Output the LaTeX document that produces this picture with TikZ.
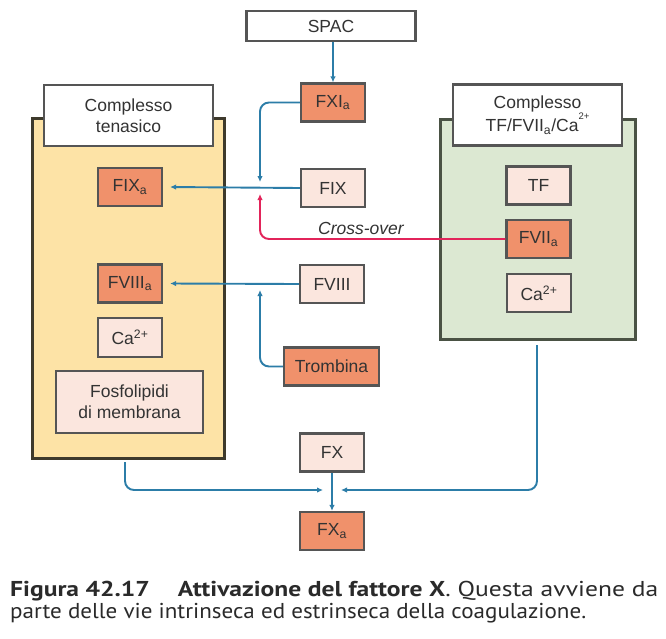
\documentclass[tikz,border=0pt]{standalone}
\usepackage{fontspec}
\setmainfont{Liberation Sans}
\newfontfamily\capfont{PT Sans}
\usepackage{graphicx}
\usetikzlibrary{arrows.meta}
\definecolor{txt}{HTML}{333333}
\definecolor{bord}{HTML}{555555}
\definecolor{orng}{HTML}{F0916B}
\definecolor{pale}{HTML}{FBE6DE}
\definecolor{ylw}{HTML}{FDE3A6}
\definecolor{ylwb}{HTML}{3E3A2C}
\definecolor{grn}{HTML}{DCE8D2}
\definecolor{grnb}{HTML}{4A5244}
\definecolor{blu}{HTML}{2C7DA8}
\definecolor{rd}{HTML}{E2245A}
\definecolor{capc}{HTML}{2A2A2A}
\begin{document}
\begin{tikzpicture}[x=1pt,y=-1pt,
  box/.style={draw=bord,line width=2.2pt,inner sep=0pt,align=center,text=txt,
    font=\fontsize{17.5}{21}\selectfont},
  actbox/.style={box,fill=orng,minimum width=64pt,minimum height=38pt},
  pbox/.style={box,fill=pale,minimum width=64pt,minimum height=38pt},
  labbox/.style={box,fill=white,minimum width=169pt,minimum height=61pt},
  bigbox/.style={line width=2.8pt,inner sep=0pt},
  flow/.style={draw=blu,line width=1.9pt,rounded corners=9pt,
    -{Latex[length=6pt,width=5.5pt]}},
  capline/.style={anchor=base west,inner sep=0pt,text=capc}
]
\fill[white] (0,0) rectangle (666,638);
\useasboundingbox (0,0) rectangle (666,638);

% big boxes
\node[bigbox,draw=ylwb,fill=ylw,minimum width=192pt,minimum height=340pt] (yel) at (128.5,288.5) {};
\node[bigbox,draw=grnb,fill=grn,minimum width=195pt,minimum height=220pt] (grnbox) at (538,229.5) {};

% labels
\node[labbox] (ylab) at (128.5,115.5) {Complesso\\tenasico};
\node[labbox] (glab) at (537.5,115) {Complesso\\TF/FVII\textsubscript{a}/Ca\raisebox{1.3ex}{\fontsize{9.5}{9.5}\selectfont 2+}};

% central column
\node[box,fill=white,minimum width=169pt,minimum height=30pt] (spac) at (331,26) {SPAC};
\node[actbox] (fxia) at (333,102.5) {FXI\textsubscript{a}};
\node[pbox] (fix) at (333,188) {FIX};
\node[pbox] (fviii) at (332,284) {FVIII};
\node[actbox,minimum width=95pt] (tromb) at (331.5,366.5) {Trombina};
\node[pbox] (fx) at (332,452.5) {FX};
\node[actbox] (fxa) at (332,531) {FX\textsubscript{a}};

% left complex
\node[actbox] (fiva) at (130,187) {FIX\textsubscript{a}};
\node[actbox] (fviiia) at (130,283.5) {FVIII\textsubscript{a}};
\node[pbox,minimum height=39pt] (ca1) at (130,337.5) {Ca\textsuperscript{2+}};
\node[pbox,minimum width=147pt,minimum height=62pt] (fosfo) at (129.5,402) {Fosfolipidi\\di membrana};

% right complex
\node[pbox] (tf) at (538.5,185.5) {TF};
\node[actbox] (fviia) at (538.5,239) {FVII\textsubscript{a}};
\node[pbox] (ca2) at (539,293) {Ca\textsuperscript{2+}};

% cross-over label
\node[text=txt,font=\fontsize{17.5}{21}\selectfont\itshape,inner sep=0pt] (xo) at (361,228) {Cross-over};

% coordinates
\coordinate (t1) at (260,182);
\coordinate (t2) at (260,194);
\coordinate (t3) at (260,290);
\coordinate (b1) at (125,462);
\coordinate (m1) at (323,490);
\coordinate (g1) at (537,345);
\coordinate (m2) at (341,490);

% connectors
\draw[flow] (spac.south -| fxia.north) -- (fxia.north);
\draw[flow] (fix.west) -- ([xshift=7pt]fiva.east);
\draw[flow] (fxia.west) -| (t1);
\draw[flow,draw=rd] (fviia.west) -| (t2);
\draw[flow] (fviii.west) -- ([xshift=7pt]fviiia.east);
\draw[flow] (tromb.west) -| (t3);
\draw[flow] (b1) |- (m1);
\draw[flow] (g1) |- (m2);
\draw[flow] (fx.south) -- (fxa.north);

% caption
\node[capline] (cap1) at (10,596) {\resizebox{648pt}{\height}{\capfont\fontsize{21.5}{22}\selectfont\textbf{Figura 42.17}\hspace{1.1em}\textbf{Attivazione del fattore X}. Questa avviene da}};
\node[capline] (cap2) at (10,618) {\resizebox{576pt}{\height}{\capfont\fontsize{21.5}{22}\selectfont parte delle vie intrinseca ed estrinseca della coagulazione.}};
\end{tikzpicture}
\end{document}
